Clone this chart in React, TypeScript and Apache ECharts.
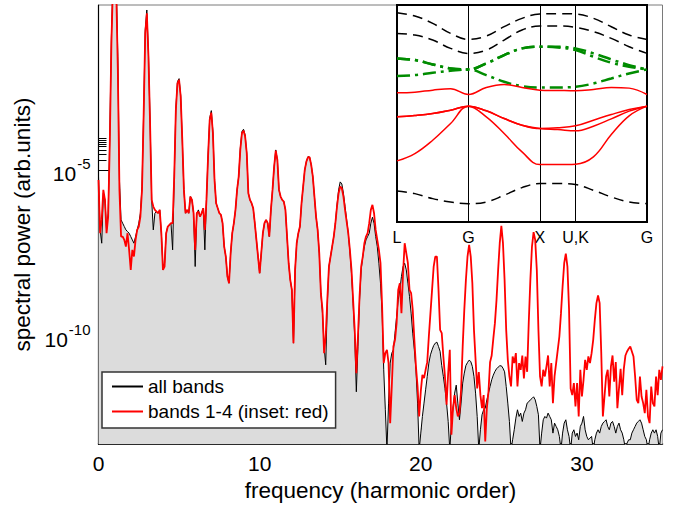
import React, { useEffect, useRef } from "react";
import * as echarts from "echarts";

const FONT = "'Liberation Sans', Arial, Helvetica, sans-serif";

// spectral power, as log10 exponents, sampled every 0.1 harmonic order from 0 to 35
const FREQ_STEP = 0.1;
const logPowerAllBands = [
  -5.2, -6.8, -7.2, -5.7, -5.9, -6.8, -6.3, -4.0, -1.0, 0.7,
  1.1, 0.6, -1.6, -5.3, -6.5, -6.6, -6.7, -6.8, -6.85, -6.9,
  -7.0, -7.1, -7.2, -7.0, -6.8, -6.6, -6.3, -5.5, -3.3, -0.8,
  -0.2, -1.5, -3.5, -5.9, -6.8, -6.3, -6.25, -6.3, -6.2, -6.9,
  -7.9, -7.8, -6.9, -6.7, -6.65, -6.6, -7.4, -5.2, -3.15, -2.35,
  -2.26, -2.75, -4.1, -5.6, -6.3, -6.2, -6.3, -5.8, -5.9, -6.3,
  -7.9, -6.3, -6.2, -6.4, -6.3, -6.15, -7.4, -5.9, -4.55, -3.45,
  -3.22, -3.85, -5.3, -6.0, -6.15, -6.3, -6.35, -6.6, -7.3, -7.6,
  -8.2, -8.4, -7.5, -6.9, -6.6, -6.2, -5.6, -5.2, -4.35, -3.85,
  -3.78, -3.95, -4.5, -5.7, -5.9, -6.0, -6.15, -6.6, -7.1, -7.6,
  -8.1, -7.5, -6.9, -6.6, -6.5, -6.6, -7.0, -6.2, -5.6, -4.9,
  -4.4, -4.7, -5.6, -5.8, -5.9, -5.95, -6.2, -7.0, -7.8, -8.3,
  -8.6, -10.2, -8.0, -7.2, -6.9, -6.7, -6.0, -5.5, -5.0, -4.75,
  -4.6, -4.62, -4.85, -5.2, -5.8, -6.4, -6.8, -7.5, -8.7, -9.3,
  -10.3, -10.85, -9.0, -7.9, -7.6, -7.3, -7.0, -6.6, -6.05, -5.6,
  -5.36, -5.42, -5.7, -6.1, -6.5, -6.9, -7.45, -8.1, -9.0, -10.0,
  -11.66, -10.3, -8.9, -8.0, -7.6, -7.3, -7.1, -7.0, -6.9, -6.6,
  -6.42, -6.6, -7.0, -7.3, -7.8, -8.4, -9.3, -11.0, -12.2, -13.4,
  -12.0, -10.8, -10.5, -10.4, -9.9, -9.4, -8.9, -8.6, -8.2, -7.9,
  -7.8, -8.0, -8.4, -8.8, -9.3, -9.9, -10.4, -11.0, -12.0, -13.4,
  -12.9, -12.4, -12.0, -11.6, -11.2, -10.8, -10.55, -10.4, -10.27, -10.2,
  -10.17, -10.3, -10.45, -10.87, -11.2, -11.56, -12.0, -12.55, -13.4, -12.6,
  -12.15, -11.7, -11.46, -12.0, -12.5, -12.0, -11.4, -11.1, -10.87, -10.78,
  -10.71, -10.75, -10.9, -11.2, -11.7, -12.4, -13.4, -12.8, -12.35, -12.2,
  -12.15, -11.9, -11.7, -11.5, -11.3, -11.16, -11.05, -10.97, -10.92, -10.88,
  -10.88, -10.95, -11.06, -11.5, -12.0, -12.55, -13.4, -13.1, -12.8, -12.45,
  -12.2, -12.4, -12.3, -12.55, -12.3, -12.2, -12.0, -11.96, -11.9, -11.86,
  -11.81, -11.9, -12.1, -12.35, -13.4, -12.9, -12.5, -12.4, -12.45, -12.3,
  -12.4, -12.5, -12.9, -12.6, -12.7, -12.8, -13.0, -13.4, -12.9, -12.6,
  -12.5, -12.8, -13.0, -13.4, -12.9, -12.8, -13.0, -12.9, -13.1, -12.7,
  -12.6, -12.4, -12.8, -13.0, -13.1, -13.05, -13.0, -13.4, -13.1, -12.9,
  -12.8, -12.9, -12.7, -12.6, -12.55, -12.5, -12.7, -12.8, -12.6, -12.55,
  -12.7, -12.9, -12.7, -12.6, -12.8, -12.9, -13.1, -13.4, -13.2, -13.1,
  -13.1, -12.9, -12.8, -12.7, -12.6, -12.55, -12.5, -12.6, -12.8, -13.0,
  -13.1, -13.4, -13.1, -12.9, -12.8, -12.9, -12.8, -13.0, -13.4, -12.9,
  -12.8,
];
const logPowerBands1to4 = [
  -5.3, -6.9, -6.5, -5.6, -5.9, -6.9, -6.4, -4.2, -1.2, 0.6,
  1.0, 0.4, -2.0, -5.6, -7.0, -7.0, -7.1, -7.3, -6.9, -7.4,
  -8.0, -7.4, -7.6, -7.1, -6.8, -6.7, -6.4, -5.6, -3.4, -0.9,
  -0.3, -1.6, -3.6, -5.9, -6.1, -6.2, -6.25, -6.3, -6.2, -6.9,
  -8.0, -7.9, -6.9, -6.7, -6.65, -6.6, -6.6, -5.2, -3.2, -2.4,
  -2.3, -2.8, -4.1, -5.6, -6.3, -6.2, -6.3, -5.8, -5.9, -6.3,
  -7.4, -6.3, -6.25, -6.4, -6.3, -6.15, -6.8, -5.9, -4.6, -3.5,
  -3.28, -3.9, -5.3, -6.0, -6.15, -6.3, -6.35, -6.6, -7.3, -7.6,
  -8.2, -8.4, -7.5, -6.9, -6.6, -6.2, -5.6, -5.2, -4.4, -3.9,
  -3.82, -4.0, -4.5, -5.7, -5.9, -6.0, -6.15, -6.6, -7.1, -7.6,
  -8.1, -7.5, -6.9, -6.6, -6.5, -6.6, -7.0, -6.2, -5.6, -4.9,
  -4.42, -4.7, -5.6, -5.8, -5.9, -5.95, -6.2, -7.0, -7.8, -8.3,
  -8.6, -10.2, -8.0, -7.2, -6.9, -6.7, -6.0, -5.5, -5.0, -4.75,
  -4.62, -4.62, -4.85, -5.2, -5.8, -6.4, -6.8, -7.5, -8.7, -9.2,
  -10.5, -10.0, -8.9, -7.9, -7.6, -7.3, -7.0, -6.6, -6.1, -5.7,
  -5.5, -5.55, -5.8, -6.2, -6.55, -6.9, -7.4, -8.0, -8.9, -9.8,
  -11.1, -10.0, -8.8, -7.9, -7.6, -7.2, -7.0, -6.9, -6.6, -6.2,
  -6.05, -6.3, -6.8, -7.1, -7.4, -7.8, -9.1, -10.8, -10.5, -10.4,
  -10.8, -12.6, -11.5, -10.3, -10.1, -9.6, -8.6, -8.4, -9.3, -8.1,
  -7.2, -7.5, -7.8, -8.6, -8.7, -9.2, -10.1, -10.9, -11.5, -12.4,
  -11.65, -11.15, -11.25, -11.0, -10.77, -10.0, -9.3, -8.6, -7.9, -7.6,
  -7.6, -8.6, -9.8, -9.9, -10.6, -11.2, -12.05, -11.1, -10.4, -12.95,
  -12.15, -11.76, -12.15, -12.4, -12.3, -11.6, -10.3, -9.2, -8.3, -7.6,
  -7.25, -7.6, -8.4, -9.8, -10.7, -11.56, -11.07, -11.76, -12.15, -11.76,
  -13.15, -12.15, -11.66, -10.77, -10.57, -10.07, -9.6, -8.9, -8.0, -7.2,
  -6.68, -7.2, -8.3, -9.8, -10.7, -11.2, -11.5, -10.6, -10.8, -10.5,
  -11.5, -10.8, -11.0, -10.57, -11.26, -10.6, -11.06, -9.58, -8.3, -7.3,
  -6.87, -7.1, -8.0, -9.8, -11.2, -11.5, -11.0, -11.2, -10.9, -10.57,
  -11.5, -10.8, -12.0, -11.2, -10.8, -10.4, -10.0, -9.3, -8.5, -7.8,
  -7.51, -7.9, -9.18, -11.56, -11.76, -11.4, -12.1, -11.4, -12.4, -11.0,
  -11.8, -11.3, -10.7, -11.0, -10.6, -10.8, -10.5, -10.1, -9.5, -9.0,
  -8.77, -9.0, -10.5, -12.4, -11.8, -11.2, -11.0, -11.8, -10.9, -10.57,
  -11.36, -10.77, -12.15, -11.56, -10.97, -11.76, -10.97, -10.57, -10.45, -10.37,
  -10.3, -10.45, -10.6, -11.2, -11.9, -12.0, -11.2, -11.8, -12.0, -12.3,
  -11.6, -12.4, -12.6, -11.5, -12.0, -12.1, -11.2, -11.76, -11.0, -11.3,
  -10.9,
];

const xTickLabels = [0, 10, 20, 30];
const xMinorTicks = [5, 15, 25];
const yTickDecades = [-5, -10];
const yMinorMantissas = [2, 3, 4, 5, 6, 7, 8, 9];

// inset: band structure along L-G-X-U,K-G (energies in arbitrary units)
const kPath = [0, 0.25, 0.5, 0.75, 1, 1.25, 1.5, 1.75, 2, 2.25, 2.5, 2.75, 3, 3.25, 3.5];
const kPointPos = [0, 1, 2, 2.5, 3.5];
const kPointNames = ["L", "G", "X", "U,K", "G"];
const bandTop1 = [627, 617, 595, 565, 547, 557, 585, 610, 623, 624, 623, 610, 585, 560, 547];
const bandTop2 = [565, 560, 545, 520, 505, 515, 545, 575, 587, 587, 583, 570, 550, 525, 505];
const bandGreen1 = [490, 485, 472, 460, 457, 475, 500, 520, 525, 525, 520, 505, 487, 470, 457];
const bandGreen2 = [490, 485, 472, 460, 457, 475, 500, 520, 525, 523, 515, 495, 477, 465, 457];
const bandGreen3 = [437, 440, 447, 453, 457, 440, 420, 407, 403, 403, 405, 415, 430, 445, 457];
const bandRed1 = [387, 389, 395, 399, 382, 403, 412, 403, 395, 394, 393, 397, 403, 401, 382];
const bandRed2 = [315, 319, 325, 335, 347, 333, 310, 290, 280, 282, 288, 305, 322, 337, 347];
const bandRed3 = [315, 319, 325, 335, 347, 333, 310, 290, 280, 277, 273, 287, 309, 332, 347];
const bandRed4 = [183, 205, 245, 295, 347, 315, 265, 210, 172, 172, 173, 195, 262, 318, 347];
const bandBottom = [93, 85, 70, 60, 55, 60, 80, 103, 115, 115, 112, 95, 75, 60, 55];

export default function App() {
  const ref = useRef<HTMLDivElement>(null);

  useEffect(() => {
    if (!ref.current) return;
    const chart = echarts.init(ref.current, null, { renderer: "svg" });

    const toSeries = (arr: number[]) =>
      arr.map((e, i) => [Number((i * FREQ_STEP).toFixed(1)), Math.pow(10, e)]);
    const band = (arr: number[]) => arr.map((v, i) => [kPath[i], v]);

    const yMin = Math.pow(10, -13.23);
    const yMax = Math.pow(10, -0.05);
    const majorY = yTickDecades.map((d) => Math.pow(10, d));
    const minorY: number[] = [];
    yTickDecades.forEach((d) => yMinorMantissas.forEach((m) => minorY.push(m * Math.pow(10, d))));

    const insetLine = (data: number[], color: string, width: number, type: any) => ({
      type: "line",
      xAxisIndex: 2,
      yAxisIndex: 2,
      data: band(data),
      smooth: 0.4,
      symbol: "none",
      silent: true,
      lineStyle: { color, width, type },
      z: 5,
    });

    const option: any = {
      animation: false,
      textStyle: { fontFamily: FONT },
      grid: [
        { left: 98.5, top: 5, width: 564, height: 442.7, show: true, borderColor: "#7a7a7a", borderWidth: 1, backgroundColor: "transparent" },
        { left: 397, top: 5, width: 250, height: 217, show: true, borderColor: "#000", borderWidth: 2, backgroundColor: "#fff" },
      ],
      xAxis: [
        {
          gridIndex: 0, type: "value", min: 0, max: 35, position: "bottom",
          axisLine: { show: true, lineStyle: { color: "#000", width: 1.5 } },
          axisTick: { show: true, inside: true, length: 16, customValues: xTickLabels, lineStyle: { color: "#000", width: 1 } },
          axisLabel: { customValues: xTickLabels, fontSize: 21, color: "#000", margin: 9, fontFamily: FONT },
          splitLine: { show: false },
          name: "frequency (harmonic order)", nameLocation: "middle", nameGap: 25,
          nameTextStyle: { fontSize: 22.5, color: "#000", fontFamily: FONT },
        },
        {
          gridIndex: 0, type: "value", min: 0, max: 35, position: "bottom",
          axisLine: { show: false },
          axisTick: { show: true, inside: true, length: 8, customValues: xMinorTicks, lineStyle: { color: "#000", width: 1 } },
          axisLabel: { show: false },
          splitLine: { show: false },
        },
        {
          gridIndex: 1, type: "value", min: 0, max: 3.5, interval: 0.5,
          axisLine: { show: false }, axisTick: { show: false }, splitLine: { show: false },
          axisLabel: {
            fontSize: 16, color: "#000", margin: 7, fontFamily: FONT, showMinLabel: true, showMaxLabel: true,
            formatter: (v: number) => {
              const i = kPointPos.findIndex((p) => Math.abs(p - v) < 1e-6);
              return i >= 0 ? kPointNames[i] : "";
            },
          },
        },
      ],
      yAxis: [
        {
          gridIndex: 0, type: "log", logBase: 10, min: yMin, max: yMax, position: "left",
          axisLine: { show: true, lineStyle: { color: "#000", width: 1.2 } },
          axisTick: { show: true, inside: true, length: 16, customValues: majorY, lineStyle: { color: "#000", width: 1 } },
          axisLabel: {
            customValues: majorY, margin: 8, color: "#000",
            formatter: (v: number) => `{b|10}{s|${Math.round(Math.log10(v))}}`,
            rich: {
              b: { fontSize: 21, fontFamily: FONT, color: "#000", verticalAlign: "bottom" },
              s: { fontSize: 15, fontFamily: FONT, color: "#000", verticalAlign: "bottom", padding: [0, 0, 13, 1] },
            },
          },
          splitLine: { show: false },
          name: "spectral power (arb.units)", nameLocation: "middle", nameGap: 61,
          nameTextStyle: { fontSize: 22.5, color: "#000", fontFamily: FONT },
        },
        {
          gridIndex: 0, type: "log", logBase: 10, min: yMin, max: yMax, position: "left",
          axisLine: { show: false },
          axisTick: { show: true, inside: true, length: 8, customValues: minorY, lineStyle: { color: "#000", width: 1 } },
          axisLabel: { show: false },
          splitLine: { show: false },
        },
        { gridIndex: 1, type: "value", min: 0, max: 650, show: false },
      ],
      legend: {
        data: ["all bands", "bands 1-4 (inset: red)"],
        orient: "vertical",
        left: 102, top: 372,
        padding: [5, 7, 7, 10],
        icon: "rect",
        itemGap: 6, itemWidth: 31, itemHeight: 2, itemTextGap: 17,
        backgroundColor: "#fff", borderColor: "#333", borderWidth: 1.5, borderRadius: 0,
        textStyle: { fontSize: 19, color: "#000", fontFamily: FONT },
        selectedMode: false,
      },
      series: [
        {
          name: "all bands", type: "line", xAxisIndex: 0, yAxisIndex: 0,
          data: toSeries(logPowerAllBands), symbol: "none", clip: true,
          itemStyle: { color: "#000" },
          lineStyle: { color: "#000", width: 1 },
          areaStyle: { color: "#dcdcdc", opacity: 1, origin: "start" },
          z: 2,
        },
        {
          name: "bands 1-4 (inset: red)", type: "line", xAxisIndex: 0, yAxisIndex: 0,
          data: toSeries(logPowerBands1to4), symbol: "none", clip: true,
          itemStyle: { color: "#ff0000" },
          lineStyle: { color: "#ff0000", width: 1.8 },
          z: 3,
        },
        {
          ...insetLine(bandTop1, "#000", 1.5, [10, 6]),
          markLine: {
            symbol: "none", silent: true, label: { show: false },
            lineStyle: { color: "#000", width: 1, type: "solid" },
            data: kPointPos.slice(1, 4).map((p) => ({ xAxis: p })),
          },
        },
        insetLine(bandTop2, "#000", 1.5, [10, 6]),
        insetLine(bandGreen1, "#008c00", 2.5, [13, 5, 3, 5]),
        insetLine(bandGreen2, "#008c00", 2.5, [13, 5, 3, 5]),
        insetLine(bandGreen3, "#008c00", 2.5, [13, 5, 3, 5]),
        insetLine(bandRed1, "#ff0000", 1.5, "solid"),
        insetLine(bandRed2, "#ff0000", 1.5, "solid"),
        insetLine(bandRed3, "#ff0000", 1.5, "solid"),
        insetLine(bandRed4, "#ff0000", 1.5, "solid"),
        insetLine(bandBottom, "#000", 1.5, [10, 6]),
      ],
    };

    chart.setOption(option);
    return () => chart.dispose();
  }, []);

  return (
    <div
      ref={ref}
      style={{ position: "absolute", left: 0, top: 0, width: 677, height: 507, background: "#fff" }}
    />
  );
}
